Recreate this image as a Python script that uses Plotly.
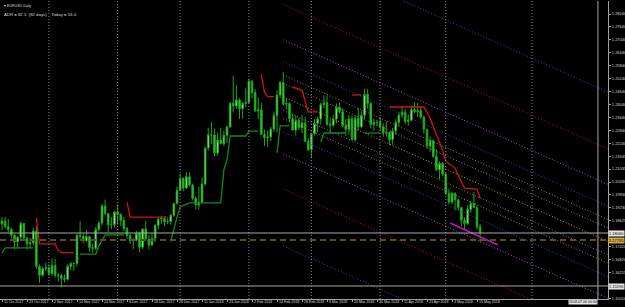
import plotly.graph_objects as go

# ---------------- data ----------------
open_ = [1.1848,1.1862,1.1835,1.1822,1.1796,1.1765,1.1787,1.1850,1.1783,1.1756,1.1761,1.1815,1.1650,1.1610,1.1640,
         1.1645,1.1618,1.1655,1.1610,1.1609,1.1596,1.1591,1.1651,1.1664,1.1665,1.1795,1.1791,1.1770,1.1790,1.1738,1.1735,1.1823,1.1852,1.1932,1.1896,1.1845,1.1845,
         1.1904,1.1893,1.1865,1.1827,1.1795,1.1770,1.1773,1.1805,1.1740,1.1825,1.1778,1.1750,1.1782,1.1842,1.1871,1.1873,1.1858,1.1859,1.1889,1.1944,
         1.2005,1.2059,1.2015,1.2068,1.2029,1.1967,1.1936,1.1950,1.2034,1.2201,1.2263,1.2262,1.2178,1.2238,1.2221,1.2260,1.2299,1.2409,1.2396,1.2425,1.2384,1.2409,
         1.2414,1.2512,1.2459,1.2374,1.2379,1.2264,1.2250,1.2253,1.2290,1.2353,1.2448,1.2506,1.2405,1.2408,1.2337,1.2285,1.2330,1.2296,1.2318,1.2233,
         1.2193,1.2268,1.2316,1.2336,1.2404,1.2410,1.2312,1.2307,1.2336,1.2391,1.2370,1.2305,1.2288,1.2337,1.2240,1.2340,1.2300,1.2354,1.2450,1.2408,1.2310,1.2320,
         1.2321,1.2300,1.2270,1.2275,1.2240,1.2280,1.2320,1.2355,1.2368,1.2325,1.2330,1.2380,1.2370,1.2375,1.2345,1.2288,1.2210,1.2235,1.2162,1.2100,1.2130,
         1.2080,1.1990,1.1950,1.1990,1.1960,1.1924,1.1865,1.1850,1.1916,1.1943,1.1925,1.1835]
high_ = [1.1880,1.1880,1.1871,1.1831,1.1802,1.1790,1.1860,1.1853,1.1788,1.1783,1.1830,1.1837,1.1660,1.1650,1.1668,
         1.1660,1.1688,1.1686,1.1620,1.1617,1.1613,1.1660,1.1670,1.1668,1.1802,1.1861,1.1805,1.1821,1.1790,1.1757,1.1835,1.1861,1.1940,1.1961,1.1900,1.1880,1.1909,
         1.1940,1.1896,1.1880,1.1835,1.1803,1.1782,1.1816,1.1811,1.1828,1.1862,1.1797,1.1806,1.1846,1.1880,1.1887,1.1883,1.1874,1.1895,1.1947,1.2023,
         1.2081,1.2066,1.2089,1.2088,1.2036,1.1978,1.2020,1.2063,1.2206,1.2296,1.2323,1.2292,1.2273,1.2296,1.2282,1.2307,1.2414,1.2537,1.2493,1.2433,1.2415,1.2479,
         1.2523,1.2518,1.2475,1.2435,1.2411,1.2287,1.2283,1.2300,1.2371,1.2470,1.2513,1.2555,1.2433,1.2414,1.2362,1.2353,1.2343,1.2355,1.2346,1.2246,
         1.2273,1.2336,1.2348,1.2413,1.2446,1.2446,1.2336,1.2355,1.2408,1.2413,1.2386,1.2337,1.2355,1.2352,1.2353,1.2388,1.2375,1.2477,1.2476,1.2416,1.2339,1.2333,
         1.2345,1.2315,1.2325,1.2278,1.2295,1.2335,1.2368,1.2397,1.2382,1.2357,1.2396,1.2414,1.2412,1.2396,1.2352,1.2290,1.2255,1.2240,1.2196,1.2139,1.2136,
         1.2085,1.2012,1.1999,1.1996,1.1967,1.1925,1.1879,1.1935,1.1955,1.1996,1.1934,1.1848]
low_ = [1.1820,1.1826,1.1810,1.1780,1.1730,1.1733,1.1770,1.1775,1.1728,1.1734,1.1750,1.1640,1.1574,1.1602,1.1629,
        1.1605,1.1607,1.1600,1.1580,1.1554,1.1576,1.1585,1.1632,1.1630,1.1650,1.1780,1.1760,1.1764,1.1720,1.1714,1.1726,1.1813,1.1840,1.1890,1.1811,1.1823,1.1831,
        1.1845,1.1838,1.1815,1.1780,1.1755,1.1730,1.1767,1.1717,1.1729,1.1772,1.1730,1.1745,1.1765,1.1823,1.1847,1.1837,1.1846,1.1845,1.1882,1.1938,
        1.2004,1.2000,1.2010,1.2024,1.1960,1.1916,1.1915,1.1942,1.2026,1.2189,1.2219,1.2163,1.2166,1.2220,1.2211,1.2225,1.2295,1.2367,1.2384,1.2336,1.2337,1.2392,
        1.2406,1.2432,1.2369,1.2335,1.2262,1.2210,1.2206,1.2232,1.2276,1.2275,1.2434,1.2398,1.2380,1.2322,1.2282,1.2260,1.2285,1.2271,1.2229,1.2187,
        1.2154,1.2260,1.2274,1.2311,1.2387,1.2304,1.2272,1.2298,1.2315,1.2363,1.2297,1.2258,1.2261,1.2239,1.2233,1.2283,1.2293,1.2334,1.2385,1.2294,1.2282,1.2303,
        1.2280,1.2255,1.2255,1.2215,1.2216,1.2262,1.2302,1.2342,1.2312,1.2304,1.2325,1.2363,1.2345,1.2336,1.2268,1.2197,1.2184,1.2155,1.2095,1.2055,1.2071,
        1.1983,1.1939,1.1940,1.1911,1.1910,1.1838,1.1822,1.1844,1.1900,1.1922,1.1822,1.1763]
close_ = [1.1862,1.1835,1.1822,1.1796,1.1765,1.1787,1.1850,1.1783,1.1756,1.1761,1.1815,1.1650,1.1610,1.1640,1.1645,
          1.1618,1.1655,1.1610,1.1609,1.1596,1.1591,1.1651,1.1664,1.1665,1.1795,1.1791,1.1770,1.1790,1.1738,1.1735,1.1823,1.1852,1.1932,1.1896,1.1845,1.1845,1.1904,
          1.1893,1.1865,1.1827,1.1795,1.1770,1.1773,1.1805,1.1740,1.1825,1.1778,1.1750,1.1782,1.1842,1.1871,1.1873,1.1858,1.1859,1.1889,1.1944,1.2005,
          1.2059,1.2015,1.2068,1.2029,1.1967,1.1936,1.1950,1.2034,1.2201,1.2263,1.2262,1.2178,1.2238,1.2221,1.2260,1.2299,1.2409,1.2396,1.2425,1.2384,1.2409,1.2414,
          1.2512,1.2459,1.2374,1.2379,1.2264,1.2250,1.2253,1.2290,1.2353,1.2448,1.2506,1.2405,1.2408,1.2337,1.2285,1.2330,1.2296,1.2318,1.2233,1.2193,
          1.2268,1.2316,1.2336,1.2404,1.2410,1.2312,1.2307,1.2336,1.2391,1.2370,1.2305,1.2288,1.2337,1.2240,1.2340,1.2300,1.2354,1.2450,1.2408,1.2310,1.2320,1.2321,
          1.2300,1.2270,1.2275,1.2240,1.2280,1.2320,1.2355,1.2368,1.2325,1.2330,1.2380,1.2370,1.2375,1.2345,1.2288,1.2210,1.2235,1.2162,1.2100,1.2130,1.2080,
          1.1990,1.1950,1.1990,1.1960,1.1924,1.1865,1.1850,1.1916,1.1943,1.1925,1.1835,1.1806]
bar_index = list(range(len(close_)))

x_tick_index = [0, 8, 16, 24, 32, 40, 48, 56, 64, 72, 80, 88, 96, 104, 112, 120, 128, 136, 144, 152]
x_tick_labels = ["11 Oct 2017", "23 Oct 2017", "2 Nov 2017", "14 Nov 2017", "24 Nov 2017", "6 Dec 2017",
                 "18 Dec 2017", "28 Dec 2017", "11 Jan 2018", "23 Jan 2018", "2 Feb 2018", "14 Feb 2018",
                 "26 Feb 2018", "8 Mar 2018", "20 Mar 2018", "30 Mar 2018", "11 Apr 2018", "23 Apr 2018",
                 "3 May 2018", "15 May 2018"]
y_tick_labels = ["1.28240", "1.27640", "1.27040", "1.26440", "1.25840", "1.25240", "1.24640", "1.24040",
                 "1.23440", "1.22840", "1.22240", "1.21635", "1.21035", "1.20430", "1.19830", "1.19230",
                 "1.18625", "1.17420", "1.16820", "1.16215", "1.15010"]

# trailing stop lines (bar index, price); None breaks the line
green_idx = [0, 1, 10, None, 25, 30, 31, 33, 39, None, 54, 55, 56, 57, 60, 70, 71, 72, 73, 78, 79, 82, None,
             88, 89, 92, None, 102, 103, 110, None, 116, 121]
green_val = [1.1714, 1.1737, 1.1737, None, 1.1708, 1.1708, 1.1745, 1.1797, 1.1797, None, 1.1766, 1.1830, 1.1880,
             1.1927, 1.1946, 1.1946, 1.2100, 1.2146, 1.2257, 1.2257, 1.2280, 1.2280, None,
             1.2178, 1.2304, 1.2304, None, 1.2229, 1.2271, 1.2271, None, 1.2271, 1.2271]
red_idx = [11, 12, 17, 18, 19, 23, None, 40, 41, 53, None, 83, 84, 85, 87, None, 93, 96, 98, 101, None,
           112, 115, None, 124, 135, 137, 138, 140, 141, 142, 145, 146, 148, 152, 153]
red_val = [1.1876, 1.1755, 1.1755, 1.1725, 1.1715, 1.1715, None, 1.1950, 1.1880, 1.1880, None,
           1.2541, 1.2460, 1.2440, 1.2440, None, 1.2485, 1.2471, 1.2369, 1.2369, None,
           1.2448, 1.2448, None, 1.2392, 1.2392, 1.2341, 1.2300, 1.2229, 1.2190, 1.2140, 1.2108,
           1.2075, 1.2015, 1.2010, 1.1968]

# fibonacci channel
fib_anchor_index = 90
fib_end_index = 194
fib_center_price = 1.24394
fib_slope_per_bar = -0.000647
fib_unit = 0.02651
fib_levels = [2.618, 1.618, 1.0, 0.618, 0.382, 0.236, 0.0, -0.236, -0.382, -0.618, -1.0, -1.618, -2.618]
fib_colors = ["#6f2fb0", "#c01818", "#b050c8", "#2c50b0", "#9a8060", "#8a8272", "#c09a10",
              "#8a8272", "#9a8060", "#2c50b0", "#b050c8", "#c01818", "#6f2fb0"]

trend_idx = [143.4, 158.7]
trend_val = [1.1853, 1.1750]

separator_index = [15, 37, 57, 79, 99, 121, 142, 169.6]
vline_index = 190.7
vline_label = "2018.07.06 00:00"
bid_price = 1.18060
lower_line_price = 1.15596
orange_line_price = 1.17735

# ---------------- figure ----------------
fig = go.Figure()

for lv, col in zip(fib_levels, fib_colors):
    p0 = fib_center_price + lv * fib_unit
    p1 = p0 + fib_slope_per_bar * (fib_end_index - fib_anchor_index)
    fig.add_trace(go.Scatter(x=[fib_anchor_index, fib_end_index], y=[p0, p1], mode="lines",
                             line=dict(color=col, width=1, dash="1px,2px"), hoverinfo="skip"))

for sx in separator_index:
    fig.add_vline(x=sx, line=dict(color="#8a8a8a", width=1, dash="1px,2px"))

fig.add_hline(y=orange_line_price, line=dict(color="#5e4c1c", width=2, dash="6px,4px"))
fig.add_hline(y=bid_price, line=dict(color="#a8a8a8", width=1))
fig.add_hline(y=lower_line_price, line=dict(color="#a8a8a8", width=1))
fig.add_vline(x=vline_index, line=dict(color="#a8a8a8", width=1))

fig.add_trace(go.Candlestick(
    x=bar_index, open=open_, high=high_, low=low_, close=close_,
    increasing=dict(line=dict(color="#19a619", width=1), fillcolor="#d8fad4"),
    decreasing=dict(line=dict(color="#19a619", width=1), fillcolor="#2fd42f"),
    whiskerwidth=0, hoverinfo="skip"))

fig.add_trace(go.Scatter(x=green_idx, y=green_val, mode="lines", connectgaps=False,
                         line=dict(color="#138a13", width=1.3), hoverinfo="skip"))
fig.add_trace(go.Scatter(x=red_idx, y=red_val, mode="lines", connectgaps=False,
                         line=dict(color="#d01515", width=1.3), hoverinfo="skip"))
fig.add_trace(go.Scatter(x=trend_idx, y=trend_val, mode="lines",
                         line=dict(color="#c010c0", width=1.6), hoverinfo="skip"))

txt = "#d8d8d8"
fig.add_annotation(xref="paper", yref="paper", x=0.004, y=0.997, xanchor="left", yanchor="top",
                   text="▾ EURUSD,Daily", showarrow=False, font=dict(size=3.6, color=txt))
fig.add_annotation(xref="paper", yref="paper", x=0.004, y=0.97, xanchor="left", yanchor="top",
                   text="ADR = 82.5  (82 days)    Today = 53.0", showarrow=False,
                   font=dict(size=4.3, color=txt))

# date labels under the axis, starting at their bar
for xi, lab in zip(x_tick_index, x_tick_labels):
    fig.add_annotation(xref="x", yref="paper", x=xi, y=0, xanchor="left", yanchor="top",
                       text=lab, showarrow=False, borderpad=0, xshift=1,
                       font=dict(size=3.6, color=txt))

# price boxes on the axis
for price, bg, fc in [(bid_price, "#e6e6e6", "#000000"), (orange_line_price, "#d0a840", "#000000"),
                      (lower_line_price, "#e6e6e6", "#000000")]:
    fig.add_annotation(xref="paper", yref="y", x=1.0, y=price, xanchor="left", yanchor="middle",
                       text=f"{price:.5f}", showarrow=False, bgcolor=bg, borderpad=0,
                       font=dict(size=4, color=fc))
fig.add_annotation(xref="x", yref="paper", x=vline_index, y=0, xanchor="right", yanchor="top",
                   text=vline_label, showarrow=False, bgcolor="#e6e6e6", borderpad=0,
                   font=dict(size=3.6, color="#000000"))

fig.update_layout(
    width=625, height=307, margin=dict(l=0, r=17, t=1, b=8),
    paper_bgcolor="#000000", plot_bgcolor="#000000", showlegend=False,
    font=dict(family="Liberation Sans, Arial, sans-serif", color=txt),
    xaxis=dict(range=[-0.64, 193.92], showgrid=False, zeroline=False, rangeslider=dict(visible=False),
               automargin=False,
               tickmode="array", tickvals=x_tick_index, showticklabels=False,
               ticks="outside", ticklen=2, tickcolor="#a0a0a0",
               showline=True, linecolor="#a0a0a0", linewidth=1),
    yaxis=dict(range=[1.149913, 1.288483], side="right", showgrid=False, zeroline=False,
               automargin=False,
               tickmode="array", tickvals=[float(s) for s in y_tick_labels], ticktext=y_tick_labels,
               ticks="outside", ticklen=2, tickcolor="#a0a0a0", tickfont=dict(size=4, color=txt),
               showline=True, linecolor="#a0a0a0", linewidth=1),
)

fig.write_html("out.html")
